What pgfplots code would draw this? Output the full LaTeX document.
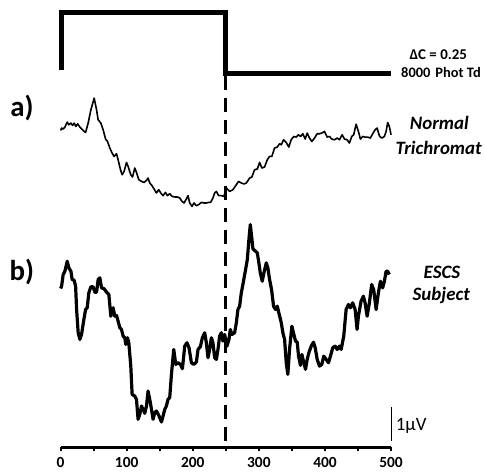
\documentclass[border=0pt]{standalone}
\usepackage{pgfplots}
\pgfplotsset{compat=1.18}
\usepackage{fontspec}
\setmainfont{Carlito}
\begin{document}
\begin{tikzpicture}
\begin{axis}[
  scale only axis, width=331bp, height=448bp,
  xmin=0, xmax=500, ymin=28, ymax=476,
  axis x line=bottom, axis y line=none, clip=false,
  axis line style={line width=2.6bp, -},
  xtick={0,100,...,500}, minor xtick={50,150,...,450},
  tick align=outside, major tick length=4bp, minor tick length=4bp,
  every tick/.style={line width=2bp, black},
  /pgf/number format/assume math mode=true,
  xticklabel style={font=\bfseries\fontsize{15.5}{15.5}\selectfont, yshift=-3bp},
]
\path (axis cs:-91.7,0) rectangle (axis cs:641,476);
% stimulus
\addplot[black, line width=5bp, line join=miter] coordinates {(1,405.5) (1,463.5) (250,463.5) (250,402.7) (500,402.7)};
% dashed marker at 250 ms
\addplot[black, line width=3bp, dash pattern=on 14bp off 8bp] coordinates {(250,400) (250,30)};
% trace a
\addplot[black, line width=1.6bp, line join=round] coordinates {
(0,345.3) (1.5,347.7) (3.9,346.7) (6.5,348.7) (10.0,353.7) (12.5,351) (15.6,352.7) (18.1,350.3) (20.5,352.7) (23.1,349.3)
(25.7,352) (29.2,348.7) (34.1,345.3) (37.8,343.3) (41.7,352.7) (45.8,366) (50.8,377.7) (54.4,366) (56.8,356) (60.9,352.7)
(64.4,346) (68.0,336.7) (71.0,334.3) (74.5,327.7) (77.9,322.7) (81.0,319.3) (84.6,322) (87.0,316) (90.6,306) (93.1,301)
(96.1,304.3) (99.7,313.3) (102.1,309.3) (106.2,301) (108.8,298.7) (112.2,307.7) (114.8,303.3) (118.3,296) (122.4,294.3) (126.3,293.3)
(129.9,295.3) (132.3,297.7) (134.9,292.7) (138.4,290) (141.4,286.7) (145.0,282.7) (148.5,286) (151.5,282.7) (155.0,280) (158.6,283.3)
(161.6,280) (165.1,282) (168.6,279.3) (172.7,278.7) (176.7,278.7) (180.2,277.7) (183.7,274.3) (186.7,272.7) (190.3,276.7) (192.8,280)
(195.3,272.7) (198.8,269.3) (201.8,272.7) (205.4,270) (208.9,271) (213.0,273.3) (216.9,272.7) (220.5,272.7) (224.0,273.3) (227.0,273.3)
(230.5,277.7) (233.1,282.7) (235.7,284.3) (239.1,280) (243.2,280) (247.1,279.3) (250.8,287.7) (255.7,284.3) (260.7,286) (265.9,291)
(269.3,294.3) (273.4,292.7) (277.4,291.7) (281.0,292.7) (286.0,297.7) (289.4,298.7) (293.5,306) (297.6,306.7) (301.1,313.3) (304.5,307.7)
(308.6,308.7) (312.7,316) (316.2,319.3) (319.6,319.3) (323.7,327.7) (327.8,328.7) (331.3,332) (333.9,331) (337.3,336) (341.4,333.3)
(345.3,328.7) (348.9,336) (352.9,339.3) (356.5,338.7) (360.0,341) (363.0,339.3) (366.5,342) (370.1,336.7) (373.1,342.7) (376.6,337.7)
(380.1,334.3) (384.2,337.7) (388.2,342) (391.7,342) (395.2,342.7) (399.3,344.3) (403.3,338.7) (406.8,339.3) (410.3,336.7) (414.4,336)
(418.5,337.7) (421.9,336) (426.0,341) (429.5,336.7) (433.5,336) (437.0,332.7) (440.5,339.3) (443.5,341) (447.1,351.7) (450.6,344.3)
(453.6,336.7) (457.1,339.3) (460.7,338.7) (464.7,338.7) (468.7,337.7) (472.2,342) (475.8,346) (478.9,347.7) (482.3,340) (485.8,337.7)
(489.9,339.3) (492.5,344.3) (494.9,353.3) (497.4,349.3) (500,341)
};
% trace b
\addplot[black, line width=3.2bp, line join=round] coordinates {
(0,187) (1.5,189.3) (3.9,201) (6.5,204.3) (10.0,214.3) (12.5,207.7) (15.6,204.3) (17.5,196) (20.5,195.3) (22.7,189.3)
(24.2,166) (26.6,142.7) (29.2,136) (31.7,141) (35.2,156) (37.8,166) (40.2,167.7) (42.7,182.7) (45.8,188.7) (49.2,188.7)
(51.8,183.3) (54.4,183.3) (56.8,196) (59.4,197.7) (61.9,187.7) (65.9,186.7) (69.5,183.3) (73.0,181) (76.0,159.3) (79.5,167.7)
(82.0,159.3) (84.6,160) (87.0,154.3) (89.6,147.7) (92.1,146) (94.6,139.3) (97.1,137.7) (98.6,131) (101.2,137.7) (103.2,132.7)
(106.2,109.3) (108.2,81) (112.2,79.3) (114.8,76) (117.2,56) (119.8,61) (122.4,69.3) (124.8,66) (127.3,62) (129.9,69.3)
(132.3,84.3) (134.9,76) (137.5,66) (139.9,56) (142.4,62.7) (145.0,64.3) (148.5,60) (152.6,53.3) (155.0,59.3) (157.6,66)
(160.1,69.3) (162.5,76) (165.1,77.7) (167.7,101) (171.2,126) (174.2,111) (177.6,112.7) (181.3,111) (184.3,106.7) (187.8,129.3)
(191.2,132.7) (194.3,127.7) (197.9,112.7) (201.4,111) (205.4,113.3) (207.9,126) (211.5,128.7) (214.5,137.7) (218.0,142.7) (220.5,132.7)
(223.0,117.7) (225.5,126) (228.1,137.7) (230.5,132.7) (233.1,117.7) (235.7,116) (238.1,126) (240.6,139.3) (243.2,142.7) (245.6,134.3)
(248.2,141) (251.7,129.3) (254.7,136) (256.8,146) (259.2,141) (263.3,142.7) (265.9,152.7) (268.3,166) (270.9,169.3) (273.4,182.7)
(275.8,191) (279.9,206) (282.5,216) (284.9,236) (287.0,251) (289.0,239.3) (291.0,226.7) (295.0,224.3) (297.6,222.7) (300.0,212.7)
(302.1,202.7) (305.1,194.3) (307.6,202.7) (311.2,212.7) (313.6,207.7) (316.2,196) (319.2,186) (322.2,169.3) (325.2,166) (327.8,169.3)
(330.2,162.7) (333.9,152.7) (336.3,142.7) (338.9,136) (341.4,112.7) (343.8,101) (346.4,126) (349.9,149.3) (352.9,141) (355.5,134.3)
(358.0,133.3) (360.0,119.3) (363.0,110) (365.0,121) (368.1,112.7) (370.6,106) (373.1,116) (375.6,122.7) (379.2,129.3) (382.6,133.3)
(385.2,127.7) (388.2,116) (391.7,109.3) (395.2,111) (398.2,119.3) (401.8,116) (405.3,112.7) (408.3,119.3) (411.8,127.7) (415.4,129.3)
(418.4,126) (421.9,129.3) (424.5,126) (428.4,139.3) (432.0,166) (435.5,171) (438.5,167.7) (442.0,172.7) (445.6,166) (448.6,146)
(450.6,159.3) (454.6,174.3) (458.1,179.3) (460.7,172.7) (463.8,159.3) (467.2,172.7) (470.7,191) (473.7,186) (477.4,166) (480.8,182.7)
(483.9,194.3) (487.3,187.7) (489.9,194.3) (492.5,204.3) (494.9,204.3) (497.4,201)
};
% scale bar
\addplot[black, line width=1.5bp] coordinates {(500.5,68) (500.5,34)};
% labels
\node[font=\bfseries\fontsize{29}{29}\selectfont] at (axis cs:-58.5,368) {a)};
\node[font=\bfseries\fontsize{29}{29}\selectfont] at (axis cs:-58.5,204) {b)};
\node[font=\bfseries\fontsize{15}{15}\selectfont, anchor=west, inner sep=0pt] at (axis cs:527.7,421) {ΔC = 0.25};
\node[font=\bfseries\fontsize{14.5}{14.5}\selectfont, anchor=west, inner sep=0pt] at (axis cs:515.1,403) {8000\hspace{5bp}Phot Td};
\node[font=\bfseries\itshape\fontsize{19}{19}\selectfont] at (axis cs:573,353) {Normal};
\node[font=\bfseries\itshape\fontsize{19}{19}\selectfont] at (axis cs:572,328) {Trichromat};
\node[font=\bfseries\itshape\fontsize{19}{19}\selectfont] at (axis cs:577,203) {ESCS};
\node[font=\bfseries\itshape\fontsize{19}{19}\selectfont] at (axis cs:576,180) {Subject};
\node[font=\fontsize{19}{19}\selectfont, anchor=west, inner sep=0pt] at (axis cs:507,49) {1μV};
\end{axis}
\end{tikzpicture}
\end{document}
